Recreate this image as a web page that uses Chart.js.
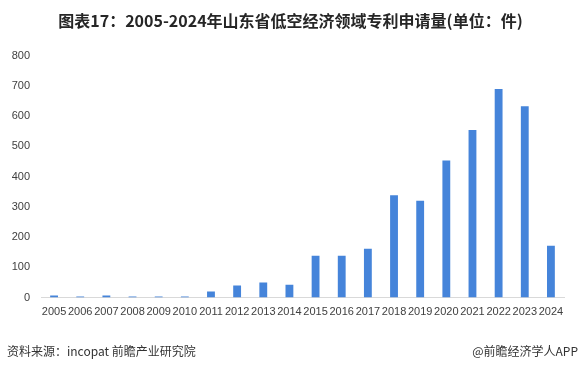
<!DOCTYPE html>
<html><head><meta charset="utf-8">
<script src="https://cdn.jsdelivr.net/npm/chart.js@4/dist/chart.umd.min.js"></script>
<style>
html,body{margin:0;padding:0;background:#fff;}
#wrap{position:relative;width:581px;height:373px;overflow:hidden;}
#c{position:absolute;left:0;top:0;}
.t{position:absolute;white-space:nowrap;}
#title{left:0;width:581px;top:9px;text-align:center;font:bold 16px "Noto Sans CJK SC","Noto Sans",sans-serif;color:#262626;line-height:22px;}
#src{left:7px;top:343px;font:12px "Noto Sans CJK SC","Liberation Sans",sans-serif;color:#333;line-height:16px;}
#app{right:3px;top:343px;font:12px "Noto Sans CJK SC","Liberation Sans",sans-serif;color:#333;line-height:16px;}
</style></head>
<body><div id="wrap">
<canvas id="c" width="581" height="373"></canvas>
<div class="t" id="title">图表17：2005-2024年山东省低空经济领域专利申请量(单位：件)</div>
<div class="t" id="src">资料来源：incopat 前瞻产业研究院</div>
<div class="t" id="app">@前瞻经济学人APP</div>
</div>
<script>
const years = ["2005","2006","2007","2008","2009","2010","2011","2012","2013","2014","2015","2016","2017","2018","2019","2020","2021","2022","2023","2024"];
const applications = [7,3,7,3,3,3,20,40,50,42,138,138,161,338,320,453,554,689,632,171];
const yMin = 0, yMax = 800, yStep = 100;

new Chart(document.getElementById('c'), {
  type: 'bar',
  data: { labels: years, datasets: [{ data: applications, backgroundColor: '#4584DA', barPercentage: 0.3, categoryPercentage: 1 }] },
  options: {
    responsive: false, animation: false,
    layout: { padding: { top: 55.5, right: 17, left: 0, bottom: 0 } },
    plugins: { legend: { display: false }, title: { display: false }, tooltip: { enabled: false } },
    scales: {
      x: {
        grid: { display: true, color: 'rgba(0,0,0,0)', drawTicks: false },
        border: { display: true, color: '#d9d9d9', width: 1 },
        ticks: { color: '#404040', font: { family: 'Liberation Sans', size: 11 }, padding: 8, maxRotation: 0, autoSkip: false },
        afterFit: s => { s.height = 75.5; }
      },
      y: {
        min: yMin, max: yMax,
        grid: { display: false, drawTicks: false },
        border: { display: false },
        ticks: { stepSize: yStep, color: '#404040', font: { family: 'Liberation Sans', size: 11 }, padding: 11 },
        afterFit: s => { s.width = 41; }
      }
    }
  }
});
</script>
</body></html>
